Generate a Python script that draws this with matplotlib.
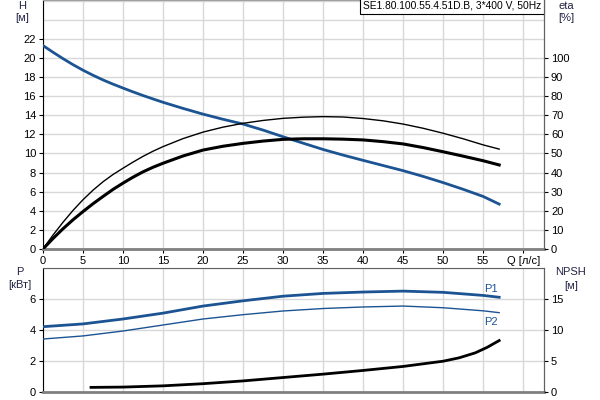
import matplotlib
matplotlib.use("Agg")
import matplotlib.pyplot as plt

plt.rcParams['font.family'] = ['Liberation Sans', 'DejaVu Sans']

# Q [l/s] sample points
q = [0, 1.25, 2.5, 3.75, 5, 6.25, 7.5, 8.75, 10, 11.25, 12.5, 13.75, 15,
     17.5, 20, 22.5, 25, 27.5, 30, 32.5, 35, 37.5, 40, 42.5, 45, 47.5, 50,
     52.5, 55, 57]
head = [21.3, 20.6, 19.93, 19.3, 18.72, 18.19, 17.7, 17.26, 16.85, 16.45, 16.07,
        15.71, 15.36, 14.72, 14.12, 13.58, 13.08, 12.45, 11.75, 11.08, 10.42,
        9.83, 9.28, 8.74, 8.2, 7.6, 6.95, 6.25, 5.5, 4.7]
eta_pump = [0, 7.3, 14.0, 20.2, 25.8, 30.8, 35.2, 39.0, 42.3, 45.5, 48.5, 51.2,
            53.6, 57.8, 61.2, 63.8, 65.8, 67.3, 68.4, 69.0, 69.3, 69.1, 68.3,
            67.1, 65.4, 63.2, 60.6, 57.7, 54.5, 52.3]
eta_total = [0, 5.5, 10.6, 15.3, 19.6, 23.7, 27.5, 31.2, 34.5, 37.6, 40.4, 42.8,
             44.9, 48.7, 51.8, 53.8, 55.3, 56.5, 57.4, 57.7, 57.7, 57.5, 57.1,
             56.2, 55.0, 53.1, 50.9, 48.6, 46.2, 44.0]

q_p = [0, 5, 10, 15, 20, 25, 30, 35, 40, 45, 50, 55, 57]
p1 = [4.22, 4.4, 4.72, 5.1, 5.56, 5.9, 6.2, 6.38, 6.47, 6.53, 6.45, 6.25, 6.13]
p2 = [3.42, 3.62, 3.94, 4.33, 4.72, 5.0, 5.24, 5.4, 5.5, 5.56, 5.45, 5.25, 5.13]

q_npsh = [6, 10, 15, 20, 25, 30, 35, 40, 45, 50, 52, 54, 55.5, 57]
npsh = [0.7, 0.75, 0.95, 1.3, 1.75, 2.3, 2.85, 3.45, 4.1, 4.95, 5.5, 6.3, 7.2, 8.3]

x_ticks = [0, 5, 10, 15, 20, 25, 30, 35, 40, 45, 50, 55, 60]
x_labels = ['0', '5', '10', '15', '20', '25', '30', '35', '40', '45', '50', '55', 'Q [л/с]']
h_ticks = [0, 2, 4, 6, 8, 10, 12, 14, 16, 18, 20, 22]
eta_ticks = [0, 10, 20, 30, 40, 50, 60, 70, 80, 90, 100]
p_ticks = [0, 2, 4, 6]
npsh_ticks = [0, 5, 10, 15]

title = "SE1.80.100.55.4.51D.B, 3*400 V, 50Hz"

BLUE = '#1c5493'
GRID = '#d8d8d8'
LBL = '#222244'
FS = 8

fig = plt.figure(figsize=(6, 4), dpi=100)

ax = fig.add_axes([43/600, 1-249/400, 501/600, 249/400])
ax.set_xlim(0, 62.6)
ax.set_ylim(0, 26.07)
ax.set_xticks(x_ticks)
ax.set_xticklabels(x_labels, fontsize=FS)
ax.set_yticks(h_ticks)
ax.set_yticklabels([str(v) for v in h_ticks], fontsize=FS)
for v in range(0, 27, 2):
    ax.axhline(v, color=GRID, lw=1, zorder=0)
for v in x_ticks:
    ax.axvline(v, color=GRID, lw=1, zorder=0)
ax.tick_params(axis='both', which='major', length=3, width=0.8, pad=2)
ax.spines['top'].set_color('#a0a0a0')
ax.spines['right'].set_color('#606060')
ax.spines['bottom'].set_color('#808080')
ax.spines['bottom'].set_linewidth(2)
ax.spines['left'].set_color('black')

ax2 = ax.twinx()
ax2.set_ylim(0, 26.07 * 5)
ax2.set_yticks(eta_ticks)
ax2.set_yticklabels([str(v) for v in eta_ticks], fontsize=FS)
ax2.tick_params(axis='y', length=3, width=0.8, pad=2)
ax2.spines['right'].set_color('#606060')
for s in ['top', 'bottom', 'left']:
    ax2.spines[s].set_visible(False)

ax.plot(q, head, color=BLUE, lw=2, zorder=3)
ax2.plot(q, eta_pump, color='black', lw=1, zorder=3)
ax2.plot(q, eta_total, color='black', lw=2.2, zorder=3)

ax.text(541/600, 1 - 1/400, title, transform=fig.transFigure, fontsize=7.4,
        va='top', ha='right',
        bbox=dict(boxstyle='square,pad=0.3', fc='white', ec='black', lw=0.8))

fig.text(22/600, 1-6/400, 'H', fontsize=FS, ha='center', va='center', color=LBL)
fig.text(22/600, 1-18/400, '[м]', fontsize=FS, ha='center', va='center', color=LBL)
fig.text(566/600, 1-6/400, 'eta', fontsize=FS, ha='center', va='center', color=LBL)
fig.text(566/600, 1-18/400, '[%]', fontsize=FS, ha='center', va='center', color=LBL)

# bottom
bx = fig.add_axes([43/600, 1-391.7/400, 501/600, 123.7/400])
bx.set_xlim(0, 62.6)
bx.set_ylim(0, 8.03)
bx.set_xticks(x_ticks)
bx.set_xticklabels([])
bx.tick_params(axis='x', length=0)
bx.set_yticks(p_ticks)
bx.set_yticklabels([str(v) for v in p_ticks], fontsize=FS)
bx.tick_params(axis='y', length=3, width=0.8, pad=2)
for v in [0, 2, 4, 6, 8]:
    bx.axhline(v, color=GRID, lw=1, zorder=0)
for v in x_ticks:
    bx.axvline(v, color=GRID, lw=1, zorder=0)
bx.spines['top'].set_color('#606060')
bx.spines['right'].set_color('#606060')
bx.spines['bottom'].set_color('#808080')
bx.spines['bottom'].set_linewidth(2)

bx2 = bx.twinx()
bx2.set_ylim(0, 8.03 * 2.5)
bx2.set_yticks(npsh_ticks)
bx2.set_yticklabels([str(v) for v in npsh_ticks], fontsize=FS)
bx2.tick_params(axis='y', length=3, width=0.8, pad=2)
bx2.spines['right'].set_color('#606060')
for s in ['top', 'bottom', 'left']:
    bx2.spines[s].set_visible(False)

bx.plot(q_p, p1, color=BLUE, lw=2, zorder=3)
bx.plot(q_p, p2, color=BLUE, lw=1, zorder=3)
bx2.plot(q_npsh, npsh, color='black', lw=2, zorder=3)

bx.annotate('P1', xy=(q_p[-1], p1[-1]), xytext=(-6, 2), textcoords='offset points',
            fontsize=FS, color=BLUE, ha='center', va='bottom')
bx.annotate('P2', xy=(q_p[-1], p2[-1]), xytext=(-6, -3), textcoords='offset points',
            fontsize=FS, color=BLUE, ha='center', va='top')

fig.text(20/600, 1-272/400, 'P', fontsize=FS, ha='center', va='center', color=LBL)
fig.text(20/600, 1-285/400, '[кВт]', fontsize=FS, ha='center', va='center', color=LBL)
fig.text(571/600, 1-272/400, 'NPSH', fontsize=FS, ha='center', va='center', color=LBL)
fig.text(571/600, 1-286/400, '[м]', fontsize=FS, ha='center', va='center', color=LBL)

fig.savefig('out.png', dpi=100)
